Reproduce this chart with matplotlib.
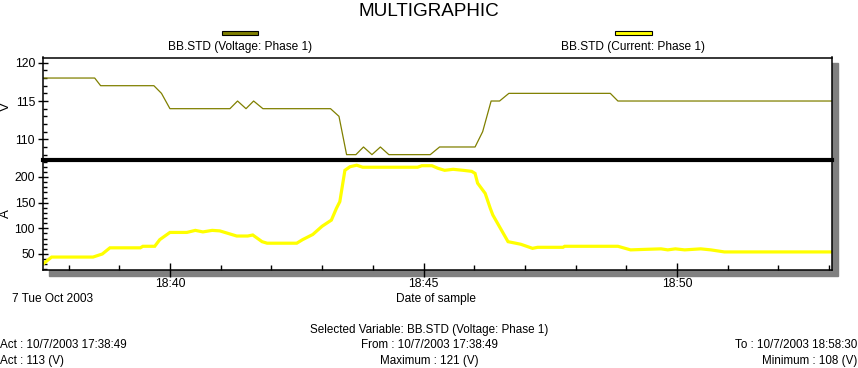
import matplotlib
matplotlib.use("Agg")
import matplotlib.pyplot as plt
from matplotlib.patches import Rectangle
from matplotlib.ticker import MultipleLocator, FixedLocator
import numpy as np

plt.rcParams['font.family'] = ['Liberation Sans', 'DejaVu Sans']

# voltage samples (time, V)
volt_times = ["18:37:30", "18:38:31", "18:38:38", "18:39:41", "18:39:50", "18:40:00",
              "18:41:11", "18:41:20", "18:41:30", "18:41:39", "18:41:50", "18:43:10",
              "18:43:20", "18:43:29", "18:43:40", "18:43:49", "18:43:59", "18:44:09",
              "18:44:19", "18:45:08", "18:45:19", "18:46:01", "18:46:10", "18:46:20",
              "18:46:30", "18:46:41", "18:48:41", "18:48:50", "18:53:03"]
volt_vals = [118, 118, 117, 117, 116, 114,
             114, 115, 114, 115, 114, 114,
             113, 108, 108, 109, 108, 109,
             108, 108, 109, 109, 111, 115,
             115, 116, 116, 115, 115]

# current samples (time, A)
curr_times = ["18:37:31", "18:37:40", "18:38:29", "18:38:40", "18:38:49", "18:39:25",
              "18:39:28", "18:39:42", "18:39:48", "18:40:00", "18:40:20", "18:40:30",
              "18:40:39", "18:40:50", "18:40:59", "18:41:11", "18:41:19", "18:41:32",
              "18:41:38", "18:41:49", "18:41:55", "18:42:30", "18:42:37", "18:42:49",
              "18:43:00", "18:43:11", "18:43:17", "18:43:21", "18:43:27", "18:43:33",
              "18:43:41", "18:43:48", "18:44:53", "18:44:58", "18:45:10", "18:45:17",
              "18:45:25", "18:45:35", "18:45:47", "18:45:57", "18:46:01", "18:46:04",
              "18:46:13", "18:46:19", "18:46:22", "18:46:40", "18:46:55", "18:47:09",
              "18:47:15", "18:47:45", "18:47:47", "18:48:50", "18:49:05", "18:49:22",
              "18:49:41", "18:49:49", "18:49:58", "18:50:09", "18:50:28", "18:50:40",
              "18:50:56", "18:53:03"]
curr_vals = [32, 44, 44, 50, 62, 62,
             65, 65, 78, 92, 92, 96,
             93, 96, 95, 89, 85, 85,
             87, 74, 71, 71, 78, 88,
             104, 116, 139, 152, 213, 220,
             223, 219, 219, 222, 222, 217,
             213, 215, 213, 211, 207, 188,
             168, 139, 126, 74, 69, 61,
             63, 63, 65, 65, 58, 59,
             60, 58, 60, 58, 60, 58,
             54, 54]

x_ticks = ["18:40", "18:45", "18:50"]

def to_min(s):
    parts = [int(p) for p in s.split(":")]
    m = (parts[0] - 18) * 60 + parts[1]
    if len(parts) > 2:
        m += parts[2] / 60.0
    return m

W, H = 858, 368

def box(x0, y0, x1, y1):
    return [x0 / W, 1 - y1 / H, (x1 - x0) / W, (y1 - y0) / H]

def ftext(x, y, s, **kw):
    fig.text(x / W, 1 - y / H, s, **kw)

fig = plt.figure(figsize=(8.58, 3.68), dpi=100)
fig.patch.set_facecolor('white')

# drop shadow behind the plot frame
fig.patches.append(Rectangle((49 / W, 1 - 276 / H), (838 - 49) / W, (276 - 63) / H,
                             transform=fig.transFigure, color='#808080', zorder=-5))

xlim = (37.497, 53.055)
sep = 159.7

ax_v = fig.add_axes(box(43, 57.5, 832, sep))
ax_i = fig.add_axes(box(43, sep, 832, 270))
ax_i.set_zorder(2)
ax_v.set_zorder(3)   # so the thick separator sits on top of the lower panel

tv = [to_min(t) for t in volt_times]
ti = [to_min(t) for t in curr_times]

ax_v.plot(tv, volt_vals, color='#808000', lw=0.9)
ax_i.plot(ti, curr_vals, color='#FFFF00', lw=2.3, solid_joinstyle='miter')

ax_v.set_xlim(xlim)
ax_i.set_xlim(xlim)
ax_v.set_ylim(107.34, 120.68)
ax_i.set_ylim(18.8, 233.7)

for ax in (ax_v, ax_i):
    ax.set_facecolor('white')
    for sp in ax.spines.values():
        sp.set_linewidth(1.1)
        sp.set_color('black')
    ax.tick_params(axis='y', which='major', direction='inout', length=7.5, width=1,
                   labelsize=8.8, pad=2)
    ax.tick_params(axis='y', which='minor', direction='in', length=3, width=1)

ax_v.spines['bottom'].set_linewidth(3.0)
ax_i.spines['top'].set_visible(False)

ax_v.yaxis.set_major_locator(FixedLocator([110, 115, 120]))
ax_v.yaxis.set_minor_locator(MultipleLocator(1))
ax_v.set_xticks([])

ax_i.yaxis.set_major_locator(FixedLocator([50, 100, 150, 200]))
ax_i.yaxis.set_minor_locator(MultipleLocator(10))

xt = [to_min(s) for s in x_ticks]
ax_i.set_xticks(xt)
ax_i.set_xticklabels(x_ticks)
ax_i.xaxis.set_minor_locator(MultipleLocator(1))
ax_i.tick_params(axis='x', which='major', direction='inout', length=9.5, width=1,
                 labelsize=8.8, pad=1)
ax_i.tick_params(axis='x', which='minor', direction='in', length=3.6, width=1)

# axis names
ftext(6, 107, "V", rotation=90, ha='center', va='center', fontsize=9.5)
ftext(6, 214, "A", rotation=90, ha='center', va='center', fontsize=9.5)

# title and legend
ftext(429, 12, "MULTIGRAPHIC", ha='center', va='center', fontsize=13.6)
fig.patches.append(Rectangle((222 / W, 1 - 34.5 / H), 36 / W, 3.5 / H,
                             transform=fig.transFigure, facecolor='#808000',
                             edgecolor='black', lw=0.8))
fig.patches.append(Rectangle((615 / W, 1 - 34.5 / H), 37 / W, 3.5 / H,
                             transform=fig.transFigure, facecolor='#FFFF00',
                             edgecolor='black', lw=0.8))
ftext(240, 47, "BB.STD (Voltage: Phase 1)", ha='center', va='center', fontsize=8.6)
ftext(633, 47, "BB.STD (Current: Phase 1)", ha='center', va='center', fontsize=8.6)

# below the axis
ftext(12, 299, "7 Tue Oct 2003", ha='left', va='center', fontsize=8.6)
ftext(436, 299, "Date of sample", ha='center', va='center', fontsize=8.6)

ftext(429, 330, "Selected Variable: BB.STD (Voltage: Phase 1)", ha='center', va='center', fontsize=8.4)
ftext(0, 345, "Act : 10/7/2003 17:38:49", ha='left', va='center', fontsize=8.4)
ftext(429, 345, "From : 10/7/2003 17:38:49", ha='center', va='center', fontsize=8.4)
ftext(857, 345, "To : 10/7/2003 18:58:30", ha='right', va='center', fontsize=8.4)
ftext(0, 361, "Act : 113 (V)", ha='left', va='center', fontsize=8.4)
ftext(429, 361, "Maximum : 121 (V)", ha='center', va='center', fontsize=8.4)
ftext(857, 361, "Minimum : 108 (V)", ha='right', va='center', fontsize=8.4)

fig.savefig("out.png", dpi=100)
